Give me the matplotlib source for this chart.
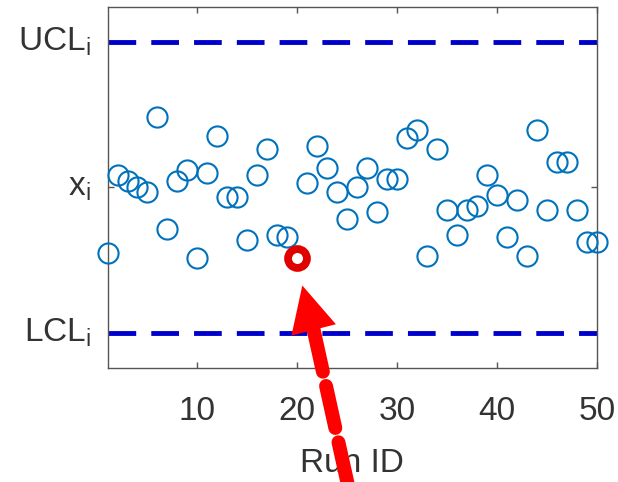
import numpy as np
import matplotlib
matplotlib.use("Agg")
import matplotlib.pyplot as plt
import matplotlib.transforms as mtransforms

plt.rcParams['font.family'] = ['Liberation Sans', 'DejaVu Sans']
plt.rcParams['mathtext.default'] = 'regular'

# Data (standardised, limits at +/-3)
run_id = np.arange(1, 51)
x_vals = [-1.35, 0.26, 0.13, 0.02, -0.10, 1.45, -0.86, 0.13, 0.37, -1.45,
          0.30, 1.07, -0.20, -0.20, -1.08, 0.25, 0.79, -0.97, -1.02, -1.45,
          0.09, 0.85, 0.41, -0.09, -0.64, 0.02, 0.41, -0.51, 0.18, 0.18,
          1.02, 1.19, -1.41, 0.79, -0.47, -0.97, -0.47, -0.38, 0.25, -0.15,
          -1.02, -0.25, -1.41, 1.19, -0.47, 0.52, 0.52, -0.47, -1.13, -1.13]
ucl = 3.0
lcl = -3.0
center = 0.0
flagged_run = 20
y_ticks = [lcl, center, ucl]
y_tick_labels = ['$LCL_i$', '$x_i$', '$UCL_i$']
x_ticks = [10, 20, 30, 40, 50]

# Arrow (annotation) positions in data units
arrow_tip = (20.5, -2.02)
arrow_base = (21.63, -2.93)
arrow_tail = (25.3, -6.35)

text_col = '#333333'
fig = plt.figure(figsize=(6.18, 4.82), dpi=100)
ax = fig.add_axes([0.174, 0.2365, 0.792, 0.749])

ax.plot([1, 50], [ucl, ucl], color='#0000CC', lw=3.5, dashes=(5.7, 3.1), zorder=2)
ax.plot([1, 50], [lcl, lcl], color='#0000CC', lw=3.5, dashes=(5.7, 3.1), zorder=2)

ax.plot(run_id, x_vals, 'o', ms=14.5, mfc='none', mec='#0072BD', mew=1.5,
        clip_on=False, zorder=3)
i = flagged_run - 1
ax.plot(run_id[i], x_vals[i], 'o', ms=13.6, mfc='none', mec='#E00000', mew=5.6,
        zorder=4)

# red arrow: dashed shaft (drawn from the head downwards) + solid head
ax.annotate('', xy=arrow_tail, xytext=arrow_base, annotation_clip=False,
            arrowprops=dict(arrowstyle='-', lw=10, color='red',
                            linestyle=(0, (3.1, 1.05)), shrinkA=0, shrinkB=0),
            zorder=6)
ax.annotate('', xy=arrow_tip, xytext=arrow_base, annotation_clip=False,
            arrowprops=dict(arrowstyle='-|>,head_length=33,head_width=16.5',
                            mutation_scale=1, lw=0, color='red',
                            shrinkA=0, shrinkB=0),
            zorder=6)

ax.set_xlim(1, 50)
ax.set_ylim(-3.72, 3.72)
ax.set_xticks(x_ticks)
ax.set_yticks(y_ticks)
ax.set_yticklabels(y_tick_labels)
ax.tick_params(direction='in', length=4, width=1, color='#555555',
               top=True, right=True, labelsize=24, labelcolor=text_col)
ax.tick_params(axis='x', pad=20)
ax.tick_params(axis='y', pad=12)
# nudge y labels up a little (subscripts hang lower in the original)
shift = mtransforms.ScaledTranslation(0, 3 / 72, fig.dpi_scale_trans)
for t in ax.yaxis.get_major_ticks():
    t.label1.set_transform(t.label1.get_transform() + shift)
ax.set_xlabel('Run ID', fontsize=24, color=text_col, labelpad=15)
for s in ax.spines.values():
    s.set_color('#555555')
    s.set_linewidth(1.0)

fig.savefig('out.png', dpi=100)
